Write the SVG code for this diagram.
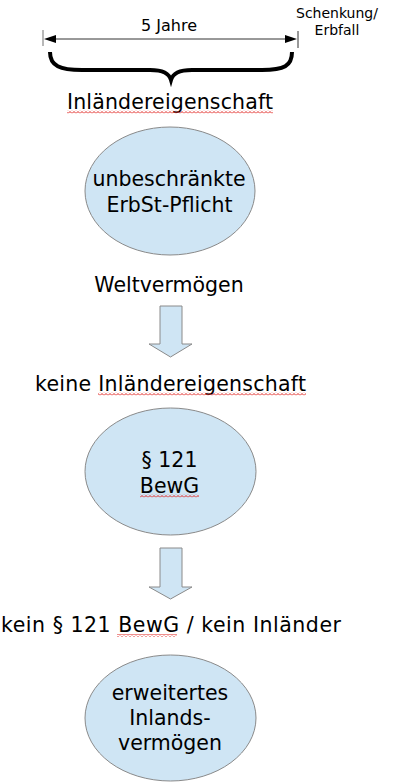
<svg xmlns="http://www.w3.org/2000/svg" width="400" height="782" viewBox="0 0 400 782">
<style>
.t{font-family:"DejaVu Sans","Verdana",sans-serif;font-size:20.5px;fill:#000;text-anchor:middle}
.s{font-family:"DejaVu Sans","Verdana",sans-serif;font-size:16px;fill:#000;text-anchor:middle}
.r{font-family:"DejaVu Sans","Verdana",sans-serif;font-size:14px;fill:#000;text-anchor:middle}
.node{fill:#cfe5f4;stroke:#8a8a8a;stroke-width:1}
.arrow{fill:#cfe5f4;stroke:#8a8a8a;stroke-width:1}
.wave{fill:url(#wave)}
</style>
<defs>
<pattern id="wave" patternUnits="userSpaceOnUse" width="4" height="3">
<path d="M0,2.5 L2,0.5 L4,2.5" fill="none" stroke="#e0201c" stroke-width="1"/>
</pattern>
</defs>
<rect width="400" height="782" fill="#fff"/>
<g id="timeline">
<line x1="43" y1="30" x2="43" y2="46" stroke="#a0a0a0" stroke-width="1.5"/>
<line x1="298" y1="31" x2="298" y2="48" stroke="#333" stroke-width="1"/>
<line x1="50" y1="39" x2="290" y2="39" stroke="#333" stroke-width="1"/>
<polygon points="44,39 56,35 56,43" fill="#000"/>
<polygon points="297,39 285,35 285,43" fill="#000"/>
<text class="s" x="169" y="31">5 Jahre</text>
<text class="r" x="337" y="18">Schenkung/</text>
<text class="r" x="337" y="35">Erbfall</text>
<path d="M50,52 C50,66 60,70 82,70 L150,70 C163,70 169,73 171,80 C173,73 179,70 192,70 L262,70 C284,70 292,66 292,52" fill="none" stroke="#000" stroke-width="4"/>
</g>
<g id="label-inlaender">
<text class="t" x="170" y="109" textLength="206">Inländereigenschaft</text>
<rect class="wave" x="67" y="110.5" width="206" height="3"/>
</g>
<g id="node-unbeschraenkt">
<ellipse class="node" cx="170" cy="191" rx="85" ry="64"/>
<text class="t" x="169" y="186">unbeschränkte</text>
<text class="t" x="169.5" y="212">ErbSt-Pflicht</text>
</g>
<g id="label-welt">
<text class="t" x="169" y="292">Weltvermögen</text>
</g>
<g id="connectors">
<polygon class="arrow" points="160,306 182,306 182,344 192,344 170.5,357 149,344 160,344"/>
<polygon class="arrow" points="160,548 182,548 182,587 192,587 170.5,599 149,587 160,587"/>
</g>
<g id="label-keine">
<text class="t" x="170.5" y="391" textLength="271">keine Inländereigenschaft</text>
<rect class="wave" x="98" y="392.5" width="208" height="3"/>
</g>
<g id="node-121">
<ellipse class="node" cx="170.5" cy="471.5" rx="85.5" ry="63.5"/>
<text class="t" x="169.5" y="467">§ 121</text>
<text class="t" x="169.5" y="493">BewG</text>
<rect class="wave" x="140" y="494.5" width="59" height="3"/>
</g>
<g id="label-kein121">
<text class="t" x="171" y="632" textLength="340">kein § 121 BewG / kein Inländer</text>
<rect class="wave" x="117" y="634" width="60" height="3"/>
</g>
<g id="node-erweitert">
<ellipse class="node" cx="170.5" cy="718" rx="85.5" ry="63"/>
<text class="t" x="170" y="700">erweitertes</text>
<text class="t" x="170" y="725">Inlands-</text>
<text class="t" x="170" y="750">vermögen</text>
</g>
</svg>
